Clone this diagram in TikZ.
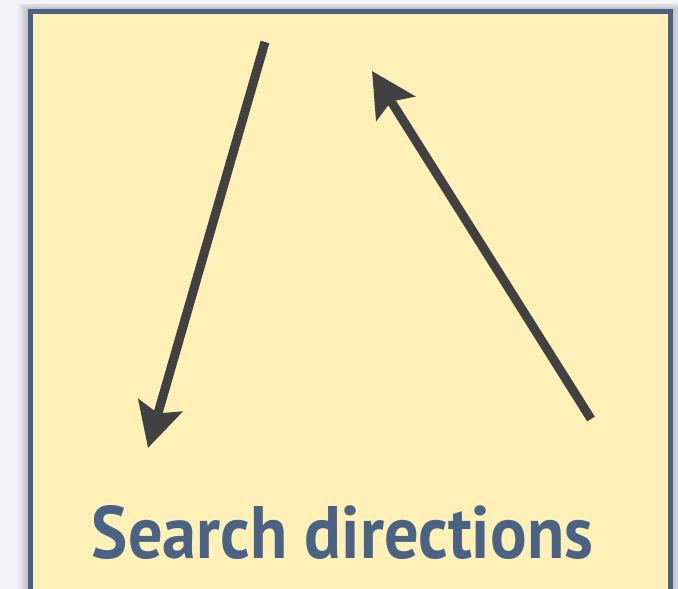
\documentclass[tikz,border=0pt]{standalone}
\usepackage{fontspec}
\setsansfont{PT Sans}
\usetikzlibrary{arrows.meta}
\definecolor{bgc}{HTML}{F3F3F7}
\definecolor{boxfill}{HTML}{FFF0B8}
\definecolor{boxline}{HTML}{4A6283}
\definecolor{arrowc}{HTML}{414141}
\tikzset{
  dirarrow/.style={draw=arrowc, line width=9pt,
    -{Stealth[length=44pt, width=45pt, inset=8pt]}},
  titletext/.style={text=boxline, inner sep=0pt, anchor=base, font=\sffamily\bfseries}
}
\begin{document}
\begin{tikzpicture}[x=1pt,y=1pt]
\useasboundingbox (0,0) rectangle (678,589);
\fill[bgc] (0,0) rectangle (678,589);
% soft shadow
\foreach \d in {1,2,...,10}{
  \fill[black, opacity=0.018] (28-\d,-10) rectangle (673+\d,580+\d*0.6);
}
\draw[boxline, line width=5pt, fill=boxfill] (30.5,-5) rectangle (670.5,577.5);
\coordinate (a1s) at (265,547);
\coordinate (a1e) at (148,141);
\coordinate (a2s) at (591,170);
\coordinate (a2e) at (372,518);
\draw[dirarrow] (a1s) -- (a1e);
\draw[dirarrow] (a2s) -- (a2e);
\node[titletext] (title) at (342.5,30) {\resizebox{501pt}{53pt}{Search directions}};
\end{tikzpicture}
\end{document}
